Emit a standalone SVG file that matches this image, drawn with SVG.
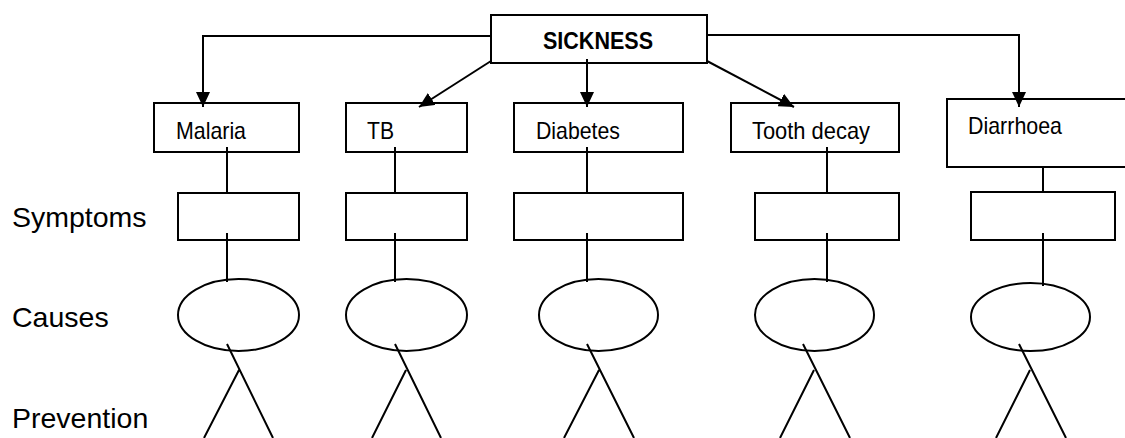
<svg xmlns="http://www.w3.org/2000/svg" width="1125" height="438" viewBox="0 0 1125 438">
<style>
  .box { fill: #fff; stroke: #000; stroke-width: 2; }
  .ell { fill: #fff; stroke: #000; stroke-width: 2; }
  .ln { fill: none; stroke: #000; stroke-width: 2; }
  .arr { fill: none; stroke: #000; stroke-width: 2; marker-end: url(#ah); }
  .lbl { font-family: "Liberation Sans", Arial, sans-serif; font-size: 24px; fill: #000; }
  .bold { font-weight: bold; }
  .side { font-family: "Liberation Sans", Arial, sans-serif; font-size: 28.5px; fill: #000; }
</style>
<defs>
  <marker id="ah" markerUnits="userSpaceOnUse" markerWidth="16" markerHeight="14" refX="15" refY="7" orient="auto" viewBox="0 0 16 14">
    <path d="M0,0 L15,7 L0,14 z" fill="#000"/>
  </marker>
</defs>
<rect width="1125" height="438" fill="#fff"/>

<g id="labels">
  <text class="side" x="12" y="227">Symptoms</text>
  <text class="side" x="12" y="327">Causes</text>
  <text class="side" x="12" y="428">Prevention</text>
</g>

<g id="connectors">
  <path class="arr" d="M491,36 H203 V107"/>
  <path class="arr" d="M491,61 L419,107"/>
  <path class="arr" d="M587,59 V107"/>
  <path class="arr" d="M707,61 L794,107"/>
  <path class="arr" d="M707,35 H1019 V107"/>
  <!-- column 1 -->
  <path class="ln" d="M227,147 V193 M227,233 V282 M227,344 L273,438 M239,370 L204,438"/>
  <!-- column 2 -->
  <path class="ln" d="M395,147 V193 M395,233 V282 M395,344 L441,438 M406,370 L372,438"/>
  <!-- column 3 -->
  <path class="ln" d="M587,147 V193 M587,233 V282 M587,344 L634,438 M599,370 L564,438"/>
  <!-- column 4 -->
  <path class="ln" d="M827,147 V193 M827,233 V282 M803,344 L850,438 M814,370 L780,438"/>
  <!-- column 5 -->
  <path class="ln" d="M1043,167 V192 M1043,233 V286 M1019,344 L1066,438 M1030,370 L996,438"/>
</g>

<g id="sickness">
  <rect class="box" x="491" y="15" width="216" height="48"/>
  <path class="ln" d="M587,59 V63"/>
  <text class="lbl bold" x="543" y="49" textLength="110" lengthAdjust="spacingAndGlyphs">SICKNESS</text>
</g>

<g id="malaria">
  <rect class="box" x="154" y="103" width="145" height="49" fill-opacity="0"/>
  <text class="lbl" x="176" y="139" textLength="70" lengthAdjust="spacingAndGlyphs">Malaria</text>
</g>
<g id="tb">
  <rect class="box" x="346" y="103" width="121" height="49" fill-opacity="0"/>
  <text class="lbl" x="367" y="139" textLength="27" lengthAdjust="spacingAndGlyphs">TB</text>
</g>
<g id="diabetes">
  <rect class="box" x="514" y="103" width="169" height="49" fill-opacity="0"/>
  <text class="lbl" x="536" y="139" textLength="84" lengthAdjust="spacingAndGlyphs">Diabetes</text>
</g>
<g id="tooth-decay">
  <rect class="box" x="731" y="103" width="168" height="49" fill-opacity="0"/>
  <text class="lbl" x="752" y="139" textLength="118" lengthAdjust="spacingAndGlyphs">Tooth decay</text>
</g>
<g id="diarrhoea">
  <rect class="box" x="947" y="99" width="190" height="68" fill-opacity="0"/>
  <text class="lbl" x="968" y="134" textLength="94" lengthAdjust="spacingAndGlyphs">Diarrhoea</text>
</g>

<g id="symptoms-1"><rect class="box" x="178" y="193" width="121" height="47" fill="none" style="fill:none"/></g>
<g id="symptoms-2"><rect class="box" x="346" y="193" width="121" height="47" style="fill:none"/></g>
<g id="symptoms-3"><rect class="box" x="514" y="193" width="169" height="47" style="fill:none"/></g>
<g id="symptoms-4"><rect class="box" x="755" y="193" width="144" height="47" style="fill:none"/></g>
<g id="symptoms-5"><rect class="box" x="971" y="192" width="144" height="48" style="fill:none"/></g>

<g id="causes-1"><ellipse class="ell" cx="238.5" cy="315" rx="60.5" ry="36" style="fill:none"/></g>
<g id="causes-2"><ellipse class="ell" cx="406.5" cy="315" rx="60.5" ry="36" style="fill:none"/></g>
<g id="causes-3"><ellipse class="ell" cx="598.5" cy="315" rx="59.5" ry="36" style="fill:none"/></g>
<g id="causes-4"><ellipse class="ell" cx="814.5" cy="315" rx="59.5" ry="36" style="fill:none"/></g>
<g id="causes-5"><ellipse class="ell" cx="1030.5" cy="317" rx="59.5" ry="34" style="fill:none"/></g>
</svg>
